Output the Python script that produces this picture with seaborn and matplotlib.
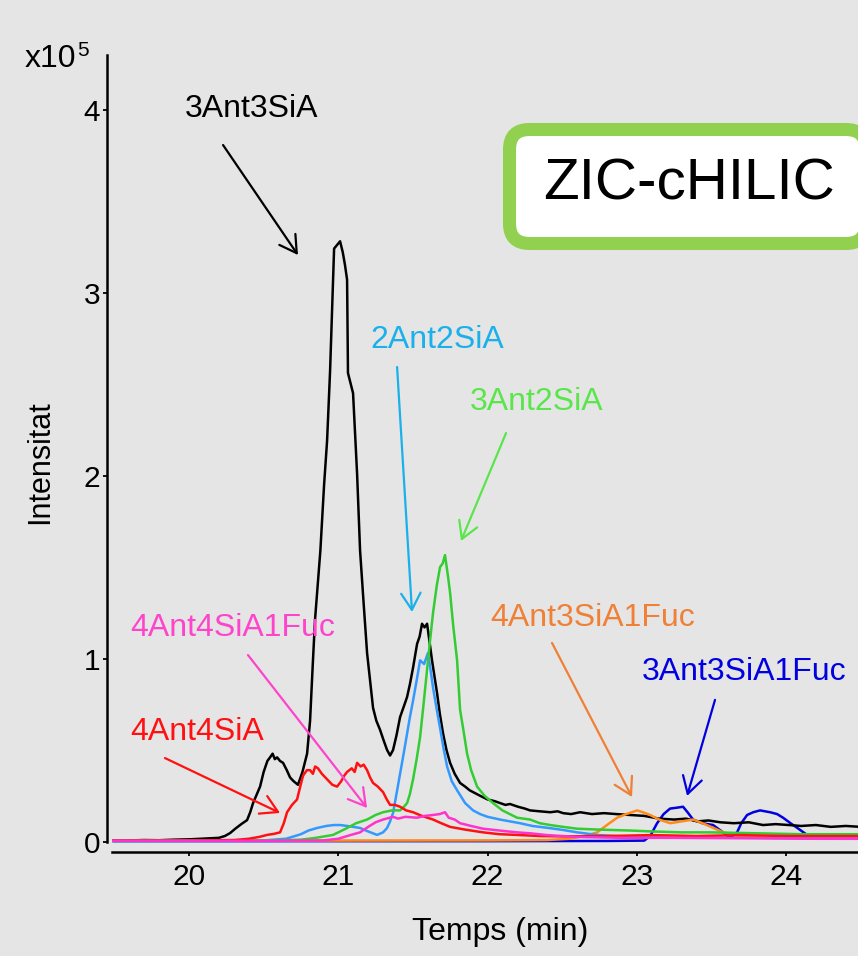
import numpy as np
import pandas as pd
import matplotlib
matplotlib.use("Agg")
import matplotlib.pyplot as plt
import seaborn as sns
from matplotlib.patches import FancyBboxPatch

# ---------------- data (retention time in min, intensity in 1e5) ----------------
black_t = [19.49, 19.60, 19.70, 19.80, 19.90, 20.00, 20.08, 20.15, 20.20, 20.24,
           20.275, 20.31, 20.35, 20.389, 20.41, 20.429, 20.45, 20.476, 20.50, 20.525,
           20.543, 20.56, 20.575, 20.59, 20.61, 20.63, 20.655, 20.677, 20.70, 20.73,
           20.76, 20.791, 20.811, 20.828, 20.844, 20.862, 20.88, 20.905, 20.925, 20.945,
           20.972, 21.012, 21.03, 21.045, 21.059, 21.065, 21.099, 21.126, 21.146, 21.17,
           21.193, 21.213, 21.233, 21.255, 21.28, 21.305, 21.327, 21.347, 21.367, 21.39,
           21.414, 21.44, 21.461, 21.48, 21.501, 21.528, 21.545, 21.561, 21.578, 21.595,
           21.61, 21.628, 21.645, 21.662, 21.68, 21.702, 21.725, 21.749, 21.78, 21.816,
           21.85, 21.88, 21.903, 21.95, 22.00, 22.05, 22.084, 22.12, 22.15, 22.204,
           22.25, 22.285, 22.35, 22.42, 22.47, 22.506, 22.56, 22.62, 22.70, 22.78,
           22.86, 22.955, 23.05, 23.15, 23.25, 23.33, 23.404, 23.48, 23.56, 23.65,
           23.75, 23.846, 23.93, 24.02, 24.10, 24.20, 24.30, 24.40, 24.50]
black_v = [0.005, 0.006, 0.008, 0.007, 0.010, 0.012, 0.015, 0.018, 0.020, 0.030,
           0.046, 0.070, 0.095, 0.117, 0.16, 0.21, 0.25, 0.30, 0.38, 0.44,
           0.46, 0.48, 0.45, 0.46, 0.44, 0.43, 0.39, 0.35, 0.33, 0.31,
           0.38, 0.48, 0.66, 0.95, 1.21, 1.40, 1.59, 1.95, 2.19, 2.57,
           3.24, 3.28, 3.22, 3.15, 3.07, 2.56, 2.45, 2.01, 1.59, 1.30,
           1.03, 0.88, 0.73, 0.66, 0.61, 0.55, 0.50, 0.47, 0.50, 0.58,
           0.68, 0.74, 0.79, 0.86, 0.95, 1.08, 1.12, 1.19, 1.17, 1.19,
           1.10, 0.99, 0.90, 0.81, 0.70, 0.59, 0.50, 0.43, 0.37, 0.32,
           0.30, 0.28, 0.27, 0.25, 0.23, 0.22, 0.21, 0.20, 0.205, 0.19,
           0.18, 0.17, 0.165, 0.16, 0.165, 0.155, 0.15, 0.16, 0.15, 0.155,
           0.15, 0.145, 0.14, 0.125, 0.12, 0.125, 0.11, 0.115, 0.105, 0.10,
           0.105, 0.09, 0.095, 0.09, 0.085, 0.09, 0.08, 0.085, 0.08]

lblue_t = [19.49, 20.00, 20.50, 20.65, 20.75, 20.80, 20.858, 20.92, 20.97, 21.012,
           21.06, 21.10, 21.146, 21.20, 21.26, 21.30, 21.327, 21.347, 21.367, 21.39,
           21.414, 21.44, 21.461, 21.48, 21.501, 21.525, 21.548, 21.575, 21.601, 21.618,
           21.635, 21.66, 21.682, 21.705, 21.729, 21.76, 21.796, 21.85, 21.903, 21.95,
           22.00, 22.084, 22.15, 22.218, 22.30, 22.40, 22.506, 22.60, 22.734, 22.85,
           23.00, 23.30, 23.60, 24.00, 24.50]
lblue_v = [0.003, 0.004, 0.006, 0.015, 0.04, 0.06, 0.074, 0.085, 0.09, 0.09,
           0.085, 0.08, 0.074, 0.055, 0.036, 0.05, 0.074, 0.11, 0.156, 0.26,
           0.37, 0.49, 0.59, 0.68, 0.77, 0.88, 0.99, 0.97, 1.03, 0.94,
           0.84, 0.72, 0.62, 0.51, 0.41, 0.33, 0.28, 0.21, 0.17, 0.15,
           0.135, 0.12, 0.11, 0.10, 0.085, 0.075, 0.063, 0.05, 0.036, 0.03,
           0.025, 0.02, 0.02, 0.018, 0.015]

green_t = [19.49, 20.00, 20.60, 20.75, 20.85, 20.965, 21.05, 21.12, 21.193, 21.25,
           21.30, 21.36, 21.414, 21.44, 21.461, 21.48, 21.501, 21.525, 21.548, 21.57,
           21.595, 21.615, 21.635, 21.66, 21.682, 21.70, 21.715, 21.735, 21.749, 21.77,
           21.796, 21.816, 21.84, 21.863, 21.89, 21.93, 21.98, 22.037, 22.10, 22.198,
           22.285, 22.35, 22.42, 22.506, 22.60, 22.75, 22.955, 23.10, 23.30, 23.50,
           23.80, 24.10, 24.50]
green_v = [0.003, 0.004, 0.006, 0.01, 0.02, 0.036, 0.07, 0.10, 0.12, 0.145,
           0.16, 0.17, 0.17, 0.19, 0.21, 0.26, 0.34, 0.45, 0.57, 0.74,
           0.94, 1.10, 1.25, 1.40, 1.50, 1.52, 1.565, 1.45, 1.36, 1.18,
           0.99, 0.72, 0.60, 0.48, 0.39, 0.30, 0.25, 0.21, 0.17, 0.13,
           0.12, 0.10, 0.09, 0.08, 0.07, 0.065, 0.06, 0.055, 0.05, 0.05,
           0.045, 0.04, 0.04]

red_t = [19.49, 20.00, 20.30, 20.40, 20.47, 20.523, 20.57, 20.61, 20.635, 20.657,
         20.69, 20.724, 20.745, 20.764, 20.79, 20.811, 20.83, 20.845, 20.864, 20.89,
         20.925, 20.96, 20.992, 21.02, 21.04, 21.059, 21.09, 21.11, 21.126, 21.15,
         21.17, 21.193, 21.213, 21.233, 21.265, 21.30, 21.325, 21.347, 21.38, 21.414,
         21.455, 21.501, 21.56, 21.635, 21.69, 21.749, 21.85, 21.97, 22.08, 22.198,
         22.35, 22.50, 22.80, 23.10, 23.40, 23.70, 24.00, 24.30, 24.50]
red_v = [0.004, 0.005, 0.008, 0.015, 0.025, 0.036, 0.042, 0.05, 0.10, 0.16,
         0.20, 0.23, 0.30, 0.36, 0.39, 0.39, 0.37, 0.41, 0.40, 0.37,
         0.34, 0.31, 0.30, 0.33, 0.36, 0.38, 0.40, 0.38, 0.43, 0.41,
         0.42, 0.39, 0.35, 0.32, 0.30, 0.27, 0.23, 0.20, 0.20, 0.19,
         0.17, 0.16, 0.14, 0.12, 0.10, 0.08, 0.065, 0.05, 0.04, 0.036,
         0.03, 0.028, 0.03, 0.035, 0.03, 0.035, 0.03, 0.03, 0.03]

pink_t = [19.49, 20.50, 20.90, 21.00, 21.08, 21.146, 21.20, 21.25, 21.30, 21.367,
          21.40, 21.45, 21.528, 21.58, 21.635, 21.68, 21.715, 21.74, 21.78, 21.816,
          21.89, 21.97, 22.08, 22.198, 22.285, 22.40, 22.60, 22.90, 23.30, 23.80,
          24.20, 24.50]
pink_v = [0.004, 0.004, 0.006, 0.015, 0.035, 0.05, 0.08, 0.105, 0.12, 0.135,
          0.125, 0.135, 0.13, 0.14, 0.145, 0.15, 0.16, 0.13, 0.12, 0.10,
          0.085, 0.07, 0.06, 0.05, 0.045, 0.035, 0.025, 0.02, 0.02, 0.018,
          0.015, 0.015]

orange_t = [19.49, 21.00, 22.00, 22.40, 22.55, 22.65, 22.734, 22.80, 22.868, 22.93,
            23.002, 23.04, 23.089, 23.15, 23.223, 23.30, 23.377, 23.44, 23.511, 23.58,
            23.645, 23.75, 23.90, 24.20, 24.50]
orange_v = [0.004, 0.005, 0.006, 0.008, 0.015, 0.03, 0.05, 0.09, 0.13, 0.15,
            0.17, 0.16, 0.145, 0.12, 0.10, 0.11, 0.12, 0.10, 0.075, 0.05,
            0.036, 0.025, 0.02, 0.018, 0.015]

dblue_t = [19.49, 21.00, 22.00, 22.80, 23.05, 23.09, 23.136, 23.18, 23.223, 23.27,
           23.31, 23.34, 23.377, 23.44, 23.511, 23.578, 23.625, 23.672, 23.70, 23.739,
           23.78, 23.826, 23.893, 23.94, 23.98, 24.03, 24.074, 24.141, 24.20, 24.35,
           24.50]
dblue_v = [0.002, 0.002, 0.002, 0.003, 0.005, 0.03, 0.10, 0.15, 0.18, 0.185,
           0.19, 0.16, 0.12, 0.10, 0.09, 0.05, 0.02, 0.05, 0.10, 0.145,
           0.16, 0.17, 0.16, 0.15, 0.13, 0.10, 0.075, 0.036, 0.02, 0.015,
           0.015]

# drawing order: first listed is drawn underneath
series_names = ["3Ant3SiA1Fuc", "3Ant3SiA", "4Ant3SiA1Fuc", "2Ant2SiA",
                "3Ant2SiA", "4Ant4SiA", "4Ant4SiA1Fuc"]
series_t = [dblue_t, black_t, orange_t, lblue_t, green_t, red_t, pink_t]
series_v = [dblue_v, black_v, orange_v, lblue_v, green_v, red_v, pink_v]
line_colors = ["#0000e0", "#000000", "#ff8c1a", "#3399ff", "#33cc33", "#ff1111", "#ff33cc"]

x_ticks = [20, 21, 22, 23, 24]
y_ticks = [0, 1, 2, 3, 4]

# annotation: label, text (x, baseline y), arrow start, arrow tip, colour
ann_labels = ["3Ant3SiA", "2Ant2SiA", "3Ant2SiA", "4Ant4SiA1Fuc",
              "4Ant4SiA", "4Ant3SiA1Fuc", "3Ant3SiA1Fuc"]
ann_text_xy = [(19.973, 3.959), (21.213, 2.697), (21.883, 2.358), (19.605, 1.123),
               (19.605, 0.555), (22.017, 1.178), (23.035, 0.883)]
ann_from = [(20.228, 3.806), (21.394, 2.593), (22.124, 2.232), (20.395, 1.019),
            (19.839, 0.456), (22.432, 1.085), (23.524, 0.774)]
ann_to = [(20.730, 3.205), (21.494, 1.254), (21.822, 1.642), (21.193, 0.183),
          (20.610, 0.156), (22.968, 0.243), (23.337, 0.249)]
ann_colors = ["#000000", "#1ab0ea", "#5ae64a", "#ff44cc", "#ff1111", "#ef8036", "#0000e0"]

# ---------------- style ----------------
BG = "#e5e5e5"
sns.set_theme(style="white", rc={"axes.facecolor": BG, "figure.facecolor": BG,
                                 "savefig.facecolor": BG})
plt.rcParams["font.family"] = ["Liberation Sans", "DejaVu Sans"]

frames = []
for name, t, v in zip(series_names, series_t, series_v):
    frames.append(pd.DataFrame({"t": t, "v": v, "name": name}))
df = pd.concat(frames, ignore_index=True)

W, H = 858, 956
fig = plt.figure(figsize=(W / 100, H / 100), dpi=100)
ax = fig.add_axes([112 / W, 1 - 847 / H, 1 - 112 / W, (847 - 55) / H])

sns.lineplot(data=df, x="t", y="v", hue="name", hue_order=series_names,
             palette=dict(zip(series_names, line_colors)), estimator=None,
             sort=False, legend=False, linewidth=1.8, ax=ax)

ax.set_xlim(19.484, 24.482)
ax.set_ylim(-0.03, 4.298)
ax.set_xticks(x_ticks)
ax.set_xticklabels([str(v) for v in x_ticks])
ax.set_yticks(y_ticks)
ax.set_yticklabels([str(v) for v in y_ticks])
ax.set_xlabel("")
ax.set_ylabel("")

for s in ["top", "right"]:
    ax.spines[s].set_visible(False)
for s in ["left", "bottom"]:
    ax.spines[s].set_color("black")
    ax.spines[s].set_linewidth(1.8)
    ax.spines[s].set_position(("outward", 3.6))
ax.spines["left"].set_bounds(0, 4.298)

ax.tick_params(axis="both", which="major", bottom=True, left=True, direction="out",
               length=3, width=1.3, color="black", labelcolor="black", labelsize=21.5)
ax.tick_params(axis="y", pad=2)
ax.tick_params(axis="x", pad=5)

for lab, txy, a0, a1, c in zip(ann_labels, ann_text_xy, ann_from, ann_to, ann_colors):
    ax.text(txy[0], txy[1], lab, color=c, fontsize=23, ha="left", va="baseline")
    ax.annotate("", xy=a1, xytext=a0,
                arrowprops=dict(arrowstyle="->,head_length=0.6,head_width=0.35",
                                color=c, lw=1.6, mutation_scale=20,
                                shrinkA=0, shrinkB=0))

# axis titles
fig.text(40 / W, 1 - 462 / H, "Intensitat", rotation=90, ha="center", va="center",
         fontsize=22, color="black")
fig.text(500 / W, 1 - 940 / H, "Temps (min)", ha="center", va="baseline",
         fontsize=23, color="black")
fig.text(25 / W, 1 - 67 / H, "x10", ha="left", va="baseline", fontsize=23, color="black")
fig.text(77 / W, 1 - 56 / H, "5", ha="left", va="baseline", fontsize=15, color="black")

# ZIC-cHILIC box
box = FancyBboxPatch((509.5 / 100, (H - 243.5) / 100), 3.565, 1.14,
                     boxstyle="round,pad=0,rounding_size=0.2",
                     transform=fig.dpi_scale_trans, facecolor="white",
                     edgecolor="#92d050", linewidth=9.4, clip_on=False)
fig.add_artist(box)
fig.text(689 / W, 1 - 200 / H, "ZIC-cHILIC", ha="center", va="baseline",
         fontsize=42, color="black")

fig.savefig("out.png", dpi=100, facecolor=BG)
